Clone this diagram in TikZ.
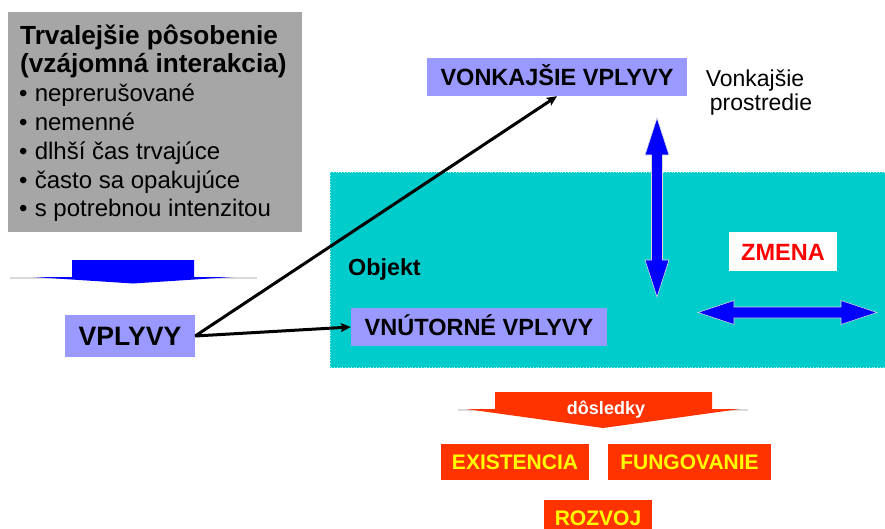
\documentclass[tikz,border=0pt]{standalone}
\usepackage{fontspec}
\setmainfont{Liberation Sans}
\usetikzlibrary{arrows.meta}
\definecolor{panelgray}{HTML}{A6A6A6}
\definecolor{lilac}{HTML}{9999FF}
\definecolor{objcyan}{HTML}{00CCCC}
\definecolor{pureblue}{HTML}{0000FF}
\definecolor{flame}{HTML}{FF3300}
\definecolor{lemon}{HTML}{FFFF00}
\definecolor{alarm}{HTML}{FF0000}
\begin{document}
\begin{tikzpicture}[x=1pt,y=-1pt,
  influence/.style={fill=lilac, inner sep=0pt, font=\fontsize{23.5}{26}\selectfont\bfseries,
    text height=17pt, text depth=0pt},
  outcome/.style={fill=flame, text=lemon, inner sep=0pt, minimum height=36pt,
    font=\fontsize{21}{24}\selectfont\bfseries, text height=15pt, text depth=0pt},
  conn/.style={line width=3pt, -{Stealth[length=10pt,width=9pt,inset=2pt]}},
  bigarrow/.style={fill=pureblue, draw=white!85!black, line width=0.6pt, line join=miter},
  titleline/.style={anchor=base west, inner sep=0pt, font=\fontsize{26.2}{28}\selectfont\bfseries},
  listline/.style={anchor=base west, inner sep=0pt, font=\fontsize{24}{28}\selectfont},
  plainline/.style={anchor=base, inner sep=0pt, font=\fontsize{23}{26}\selectfont},
  banner/.style={draw=black!15, line width=1.4pt}]

% page frame
\clip (0,0) rectangle (885,529);
\fill[white] (0,0) rectangle (885,529);

% left panel: characteristics of lasting influence
\fill[panelgray] (8,12) rectangle (302,232);
\node[titleline] (t1) at (20,45) {Trvalejšie pôsobenie};
\node[titleline] (t2) at (20,73) {(vzájomná interakcia)};
\node[listline] (b1) at (19,102) {•\hspace{0.3em}neprerušované};
\node[listline] (b2) at (19,131) {•\hspace{0.3em}nemenné};
\node[listline] (b3) at (19,160) {•\hspace{0.3em}dlhší čas trvajúce};
\node[listline] (b4) at (19,188.5) {•\hspace{0.3em}často sa opakujúce};
\node[listline] (b5) at (19,217) {•\hspace{0.3em}s potrebnou intenzitou};

% blue downward banner
\draw[banner] (10,278) -- (257,278);
\fill[pureblue] (72,260) -- (194,260) -- (194,277) -- (233,277) -- (133,283.5)
  -- (33,277) -- (72,277) -- cycle;

% object area
\fill[objcyan] (330,172) rectangle (885,368);
\draw[white!70!objcyan, line width=0.8pt, dotted] (330.4,172.4) rectangle (890,367.6);
\node[anchor=base west, inner sep=0pt, font=\fontsize{23.3}{26}\selectfont\bfseries] (obj) at (348,275) {Objekt};

% influences
\node[influence, minimum width=130pt, minimum height=42pt, font=\fontsize{26.6}{28}\selectfont\bfseries,
  text height=19pt] (vplyvy) at (130,336) {VPLYVY};
\node[influence, minimum width=260pt, minimum height=38pt] (vonk) at (557,77) {VONKAJŠIE VPLYVY};
\node[influence, minimum width=256pt, minimum height=38pt] (vnut) at (479,327) {VNÚTORNÉ VPLYVY};

\node[plainline] (env1) at (755,87) {Vonkajšie};
\node[plainline] (env2) at (761,111) {prostredie};

\draw[conn] (vplyvy.east) -- (vonk.south);
\draw[conn] (vplyvy.east) -- (vnut.west);

% vertical double arrow between environment and object
\draw[bigarrow] (657,118) -- (669,155) -- (662.5,155) -- (662.5,260) -- (669,260) -- (657,297)
  -- (645,260) -- (651.5,260) -- (651.5,155) -- (645,155) -- cycle;

% horizontal double arrow (change)
\draw[bigarrow] (698,312.5) -- (734,300.5) -- (734,307) -- (841,307) -- (841,300.5) -- (877,312.5)
  -- (841,324.5) -- (841,318) -- (734,318) -- (734,324.5) -- cycle;

\node[fill=white, text=alarm, inner sep=0pt, minimum width=108pt, minimum height=39pt,
  font=\fontsize{23.5}{26}\selectfont\bfseries, text height=17pt, text depth=0pt] (zmena) at (783,251.5) {ZMENA};

% consequences banner
\draw[banner] (458,410) -- (748,410);
\fill[flame] (495,392) -- (712,392) -- (712,409) -- (740,409) -- (603,428)
  -- (466,409) -- (495,409) -- cycle;
\node[anchor=base, inner sep=0pt, text=white, font=\fontsize{18}{20}\selectfont\bfseries] (dosl) at (606,414) {dôsledky};

% outcomes
\node[outcome, minimum width=148pt] (exist) at (515,462) {EXISTENCIA};
\node[outcome, minimum width=163pt] (fung) at (689.5,462) {FUNGOVANIE};
\node[outcome, minimum width=108pt] (rozvoj) at (598,518) {ROZVOJ};

\end{tikzpicture}
\end{document}
